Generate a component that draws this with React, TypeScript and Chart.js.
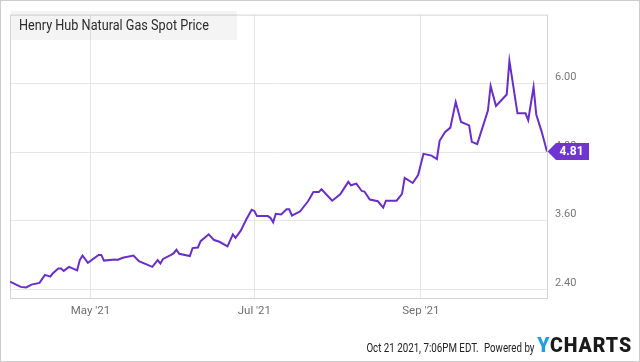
import React, { useEffect, useRef } from 'react';
import { Chart, registerables } from 'chart.js';

Chart.register(...registerables);

const dates: string[] = [
  '2021-04-01', '2021-04-05', '2021-04-07', '2021-04-09', '2021-04-12', '2021-04-14', '2021-04-16', '2021-04-17',
  '2021-04-19', '2021-04-20', '2021-04-21', '2021-04-23', '2021-04-26', '2021-04-27', '2021-04-28', '2021-04-30',
  '2021-05-04', '2021-05-05', '2021-05-06', '2021-05-10', '2021-05-11', '2021-05-13', '2021-05-17', '2021-05-19',
  '2021-05-24', '2021-05-26', '2021-05-27', '2021-05-28', '2021-05-31', '2021-06-01', '2021-06-02', '2021-06-03',
  '2021-06-07', '2021-06-08', '2021-06-10', '2021-06-11', '2021-06-14', '2021-06-16', '2021-06-18', '2021-06-21',
  '2021-06-23', '2021-06-24', '2021-06-26', '2021-06-28', '2021-06-30', '2021-07-01', '2021-07-02', '2021-07-06',
  '2021-07-07', '2021-07-08', '2021-07-09', '2021-07-11', '2021-07-13', '2021-07-14', '2021-07-15', '2021-07-18',
  '2021-07-21', '2021-07-23', '2021-07-25', '2021-07-26', '2021-07-30', '2021-08-02', '2021-08-05', '2021-08-06',
  '2021-08-08', '2021-08-10', '2021-08-11', '2021-08-13', '2021-08-16', '2021-08-18', '2021-08-19', '2021-08-23',
  '2021-08-25', '2021-08-26', '2021-08-29', '2021-08-31', '2021-09-02', '2021-09-05', '2021-09-07', '2021-09-08',
  '2021-09-10', '2021-09-12', '2021-09-14', '2021-09-16', '2021-09-19', '2021-09-20', '2021-09-22', '2021-09-26',
  '2021-09-27', '2021-09-29', '2021-10-03', '2021-10-04', '2021-10-07', '2021-10-10', '2021-10-11', '2021-10-13',
  '2021-10-14', '2021-10-16', '2021-10-18',
];

const prices: number[] = [
  2.53, 2.44, 2.43, 2.48, 2.51, 2.65, 2.62, 2.68,
  2.76, 2.76, 2.72, 2.79, 2.73, 2.91, 2.99, 2.86,
  3.00, 3.00, 2.90, 2.92, 2.91, 2.95, 2.99, 2.89,
  2.79, 2.91, 2.85, 2.93, 3.00, 3.03, 3.09, 3.02,
  2.98, 3.12, 3.13, 3.24, 3.36, 3.26, 3.23, 3.15,
  3.36, 3.30, 3.43, 3.62, 3.79, 3.77, 3.68, 3.68,
  3.65, 3.57, 3.72, 3.71, 3.80, 3.80, 3.69, 3.76,
  3.94, 4.10, 4.10, 4.15, 3.95, 4.06, 4.28, 4.22,
  4.25, 4.12, 4.11, 3.97, 3.94, 3.83, 3.95, 3.95,
  4.07, 4.35, 4.26, 4.40, 4.77, 4.74, 4.68, 5.00,
  5.15, 5.23, 5.68, 5.33, 5.27, 4.98, 4.94, 5.53,
  5.96, 5.61, 5.81, 6.40, 5.48, 5.48, 5.36, 5.94,
  5.46, 5.16, 4.81,
];

const xTickDates: string[] = ['2021-05-01', '2021-07-01', '2021-09-01'];
const xTickLabels: string[] = ["May '21", "Jul '21", "Sep '21"];
const yTicks: number[] = [2.4, 3.6, 4.8, 6.0];
const xRange: string[] = ['2021-04-01', '2021-10-18'];
const yRange: number[] = [2.245, 7.21];

const titleText = 'Henry Hub Natural Gas Spot Price';
const footerText = 'Oct 21 2021, 7:06PM EDT.';
const poweredText = 'Powered by';

const PURPLE = '#6a2ec8';
const FONT = 'Roboto, "Noto Sans", sans-serif';

function dayNum(s: string): number {
  const [y, m, d] = s.split('-').map(Number);
  return (Date.UTC(y, m - 1, d) - Date.UTC(2021, 0, 1)) / 86400000 + 1;
}

export default function App() {
  const ref = useRef<HTMLCanvasElement | null>(null);

  useEffect(() => {
    document.body.style.margin = '0';
    const canvas = ref.current;
    if (!canvas) return;

    const points = dates.map((d, i) => ({ x: dayNum(d), y: prices[i] }));
    const tickDays = xTickDates.map(dayNum);

    const overlay = {
      id: 'overlay',
      beforeDatasetsDraw(chart: any) {
        const { ctx, chartArea: a } = chart;
        ctx.save();
        ctx.strokeStyle = '#d4d4d4';
        ctx.lineWidth = 1;
        ctx.strokeRect(a.left + 0.5, a.top + 0.5, a.right - a.left, a.bottom - a.top);
        ctx.restore();
      },
      afterDraw(chart: any) {
        const { ctx } = chart;
        ctx.save();
        // title box
        ctx.fillStyle = 'rgba(0,0,0,0.045)';
        ctx.fillRect(11, 11, 226, 29);
        ctx.save();
        ctx.translate(19, 26);
        ctx.scale(0.845, 1);
        ctx.fillStyle = '#2b2b2b';
        ctx.font = `15px ${FONT}`;
        ctx.textBaseline = 'middle';
        ctx.textAlign = 'left';
        ctx.fillText(titleText, 0, 0);
        ctx.restore();

        // last value flag
        const meta = chart.getDatasetMeta(0);
        const last = meta.data[meta.data.length - 1];
        const x = last.x;
        const y = last.y;
        ctx.fillStyle = '#7035d0';
        ctx.beginPath();
        ctx.moveTo(x + 0.5, y);
        ctx.lineTo(x + 9, y - 8.5);
        ctx.lineTo(x + 42, y - 8.5);
        ctx.lineTo(x + 42, y + 8.5);
        ctx.lineTo(x + 9, y + 8.5);
        ctx.closePath();
        ctx.fill();
        ctx.fillStyle = '#ffffff';
        ctx.font = `bold 12px ${FONT}`;
        ctx.textAlign = 'center';
        ctx.textBaseline = 'middle';
        ctx.fillText(prices[prices.length - 1].toFixed(2), x + 24.5, y + 0.5);

        // outer frame
        ctx.strokeStyle = '#cccccc';
        ctx.lineWidth = 1;
        ctx.strokeRect(0.5, 0.5, chart.width - 1, chart.height - 1);
        ctx.restore();
      },
    };

    const chart = new Chart(canvas, {
      type: 'line',
      data: {
        datasets: [
          {
            data: points,
            borderColor: PURPLE,
            borderWidth: 2,
            pointRadius: 0,
            tension: 0,
            fill: false,
          },
        ],
      },
      options: {
        responsive: false,
        animation: false,
        layout: { padding: { left: 10, top: 10, right: 0, bottom: 0 } },
        plugins: { legend: { display: false }, tooltip: { enabled: false } },
        scales: {
          x: {
            type: 'linear',
            min: dayNum(xRange[0]),
            max: dayNum(xRange[1]),
            afterBuildTicks(scale: any) {
              scale.ticks = tickDays.map((v) => ({ value: v }));
            },
            afterFit(scale: any) {
              scale.height = 64;
            },
            grid: { color: '#e6e6e6', lineWidth: 1, drawTicks: false },
            border: { display: false },
            ticks: {
              padding: 6,
              color: '#6f6f6f',
              font: { family: FONT, size: 11.5 },
              maxRotation: 0,
              callback(value: any) {
                const i = tickDays.indexOf(Number(value));
                return i >= 0 ? xTickLabels[i] : '';
              },
            },
          },
          y: {
            type: 'linear',
            position: 'right',
            min: yRange[0],
            max: yRange[1],
            afterBuildTicks(scale: any) {
              scale.ticks = yTicks.map((v) => ({ value: v }));
            },
            afterFit(scale: any) {
              scale.width = 93;
            },
            grid: { color: '#e6e6e6', lineWidth: 1, drawTicks: false },
            border: { display: false },
            ticks: {
              padding: 8,
              labelOffset: -6,
              color: '#777777',
              font: { family: FONT, size: 11 },
              callback(value: any) {
                return Number(value).toFixed(2);
              },
            },
          },
        },
      },
      plugins: [overlay],
    } as any);

    return () => chart.destroy();
  }, []);

  return (
    <div style={{ position: 'relative', width: 640, height: 362, overflow: 'hidden', background: '#fff' }}>
      <canvas ref={ref} width={640} height={362} style={{ display: 'block' }} />
      <div
        style={{
          position: 'absolute',
          right: 8,
          top: 335,
          display: 'flex',
          alignItems: 'baseline',
          fontFamily: FONT,
          color: '#222',
          whiteSpace: 'nowrap',
        }}
      >
        <span
          style={{
            display: 'inline-block',
            fontSize: 12.5,
            transform: 'scaleX(0.78)',
            transformOrigin: 'right center',
          }}
        >
          {footerText}
          <span style={{ marginLeft: 7 }}>{poweredText}</span>
        </span>
        <span style={{ fontSize: 19.5, fontWeight: 900, marginLeft: 3, letterSpacing: 0.9, lineHeight: '22px' }}>
          <span style={{ color: '#1f9fdc' }}>Y</span>
          <span style={{ color: '#1a1a1a' }}>CHARTS</span>
        </span>
      </div>
    </div>
  );
}
